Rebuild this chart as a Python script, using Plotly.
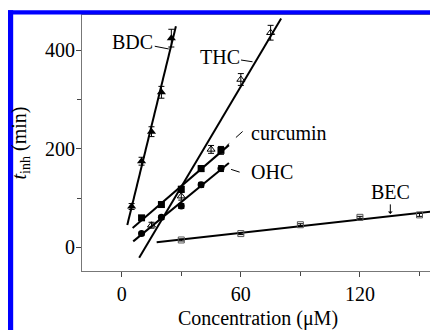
import numpy as np
import plotly.graph_objects as go

# ---- data ----
bdc_x = [5, 10, 15, 20, 25]
bdc_y = [83, 175, 235, 315, 425]
bdc_err = [6, 8, 10, 12, 18]
bdc_fit = [2.8, 27.3]

thc_x = [15, 30, 45, 60, 75]
thc_y = [45, 104, 199, 341, 436]
thc_err = [6, 8, 8, 12, 15]
thc_fit = [8.8, 80.3]

cur_x = [10, 20, 30, 40, 50]
cur_y = [60, 87, 118, 160, 197]
cur_err = [4, 5, 6, 6, 8]
cur_fit = [5.5, 54]

ohc_x = [10, 20, 30, 40, 50]
ohc_y = [28, 61, 84, 127, 160]
ohc_err = [3, 4, 5, 5, 6]
ohc_fit = [5.8, 54]

bec_x = [30, 60, 90, 120, 150]
bec_y = [15, 28, 46, 61, 66]
bec_err = [2, 2, 2, 2, 3]
bec_fit = [17.6, 160]

x_ticks = [0, 60, 120]
y_ticks = [0, 200, 400]

FONT = "Liberation Serif, DejaVu Serif, Times New Roman, serif"

fig = go.Figure()

series = [
    (bdc_x, bdc_y, bdc_err, bdc_fit, dict(symbol="triangle-up", size=8, color="black")),
    (thc_x, thc_y, thc_err, thc_fit, dict(symbol="triangle-up-open", size=7, color="black", line=dict(width=1, color="black"))),
    (cur_x, cur_y, cur_err, cur_fit, dict(symbol="square", size=7, color="black")),
    (ohc_x, ohc_y, ohc_err, ohc_fit, dict(symbol="circle", size=7, color="black")),
    (bec_x, bec_y, bec_err, bec_fit, dict(symbol="square-open", size=6, color="#555", line=dict(width=1, color="#555"))),
]

for xs, ys, errs, fr, mk in series:
    k, b = np.polyfit(xs, ys, 1)
    fx = np.array(fr, dtype=float)
    fig.add_trace(go.Scatter(x=fx, y=k * fx + b, mode="lines",
                             line=dict(color="black", width=2), showlegend=False,
                             hoverinfo="skip"))
    fig.add_trace(go.Scatter(x=xs, y=ys, mode="markers", marker=mk, showlegend=False,
                             error_y=dict(type="data", array=errs, visible=True,
                                          color="black", thickness=1, width=3)))

# ---- labels ----
lab_font = dict(family=FONT, size=20, color="black")
fig.add_annotation(x=23.7, y=403, ax=-36, ay=-7, text="BDC", showarrow=True,
                   arrowhead=0, arrowwidth=1, arrowcolor="black", font=lab_font)
fig.add_annotation(x=65.9, y=377, ax=-33, ay=-5, text="THC", showarrow=True,
                   arrowhead=0, arrowwidth=1, arrowcolor="black", font=lab_font)
fig.add_annotation(x=64.2, y=231.6, text="curcumin", showarrow=False, xanchor="left",
                   font=lab_font)
fig.add_annotation(x=64.2, y=152.8, text="OHC", showarrow=False, xanchor="left",
                   font=lab_font)
fig.add_annotation(x=135.3, y=68, ax=0, ay=-22, text="BEC", showarrow=True,
                   arrowhead=1, arrowsize=0.8, arrowwidth=1, arrowcolor="black",
                   font=lab_font)
fig.add_shape(type="line", x0=60.9, y0=235.4, x1=52.8, y1=206,
              line=dict(color="black", width=1, dash="dash"))
fig.add_shape(type="line", x0=59.4, y0=152.8, x1=51.8, y1=162.7,
              line=dict(color="black", width=1, dash="dash"))

# ---- blue frame (cropped border) ----
blue = "#0000ff"
for x0, x1, y0, y1 in [(-0.2110, -0.1955, -0.25, 1.0189),
                       (-0.2110, 1.03, 1.0019, 1.0189),
                       (1.0028, 1.03, -0.25, 1.0189)]:
    fig.add_shape(type="rect", xref="paper", yref="paper", x0=x0, x1=x1, y0=y0, y1=y1,
                  fillcolor=blue, line=dict(width=0), layer="above")

axis_common = dict(showgrid=False, zeroline=False, showline=True, mirror=True,
                   linecolor="#777", linewidth=1, ticks="outside", ticklen=5,
                   tickcolor="#444", tickwidth=1,
                   tickfont=dict(family=FONT, size=20, color="black"))

fig.update_xaxes(range=[-20, 157.3], tickvals=x_ticks,
                 minor=dict(ticks="outside", ticklen=4, tickcolor="#444", dtick=60, tick0=30),
                 title=dict(text="Concentration (μM)", standoff=8,
                            font=dict(family=FONT, size=20, color="black")),
                 **axis_common)
fig.update_yaxes(range=[-48, 472], tickvals=y_ticks, ticklabelstandoff=-3,
                 minor=dict(ticks="outside", ticklen=4, tickcolor="#444", dtick=200, tick0=100),
                 title=dict(text="<i>t</i><sub>inh</sub> (min)", standoff=18,
                            font=dict(family=FONT, size=20, color="black")),
                 **axis_common)

# the page body adds an 8px offset, so the figure is laid out 8px up/left
fig.update_layout(width=430, height=322, margin=dict(l=74, r=3, t=7, b=51),
                  plot_bgcolor="white", paper_bgcolor="white")

fig.write_html("out.html")
